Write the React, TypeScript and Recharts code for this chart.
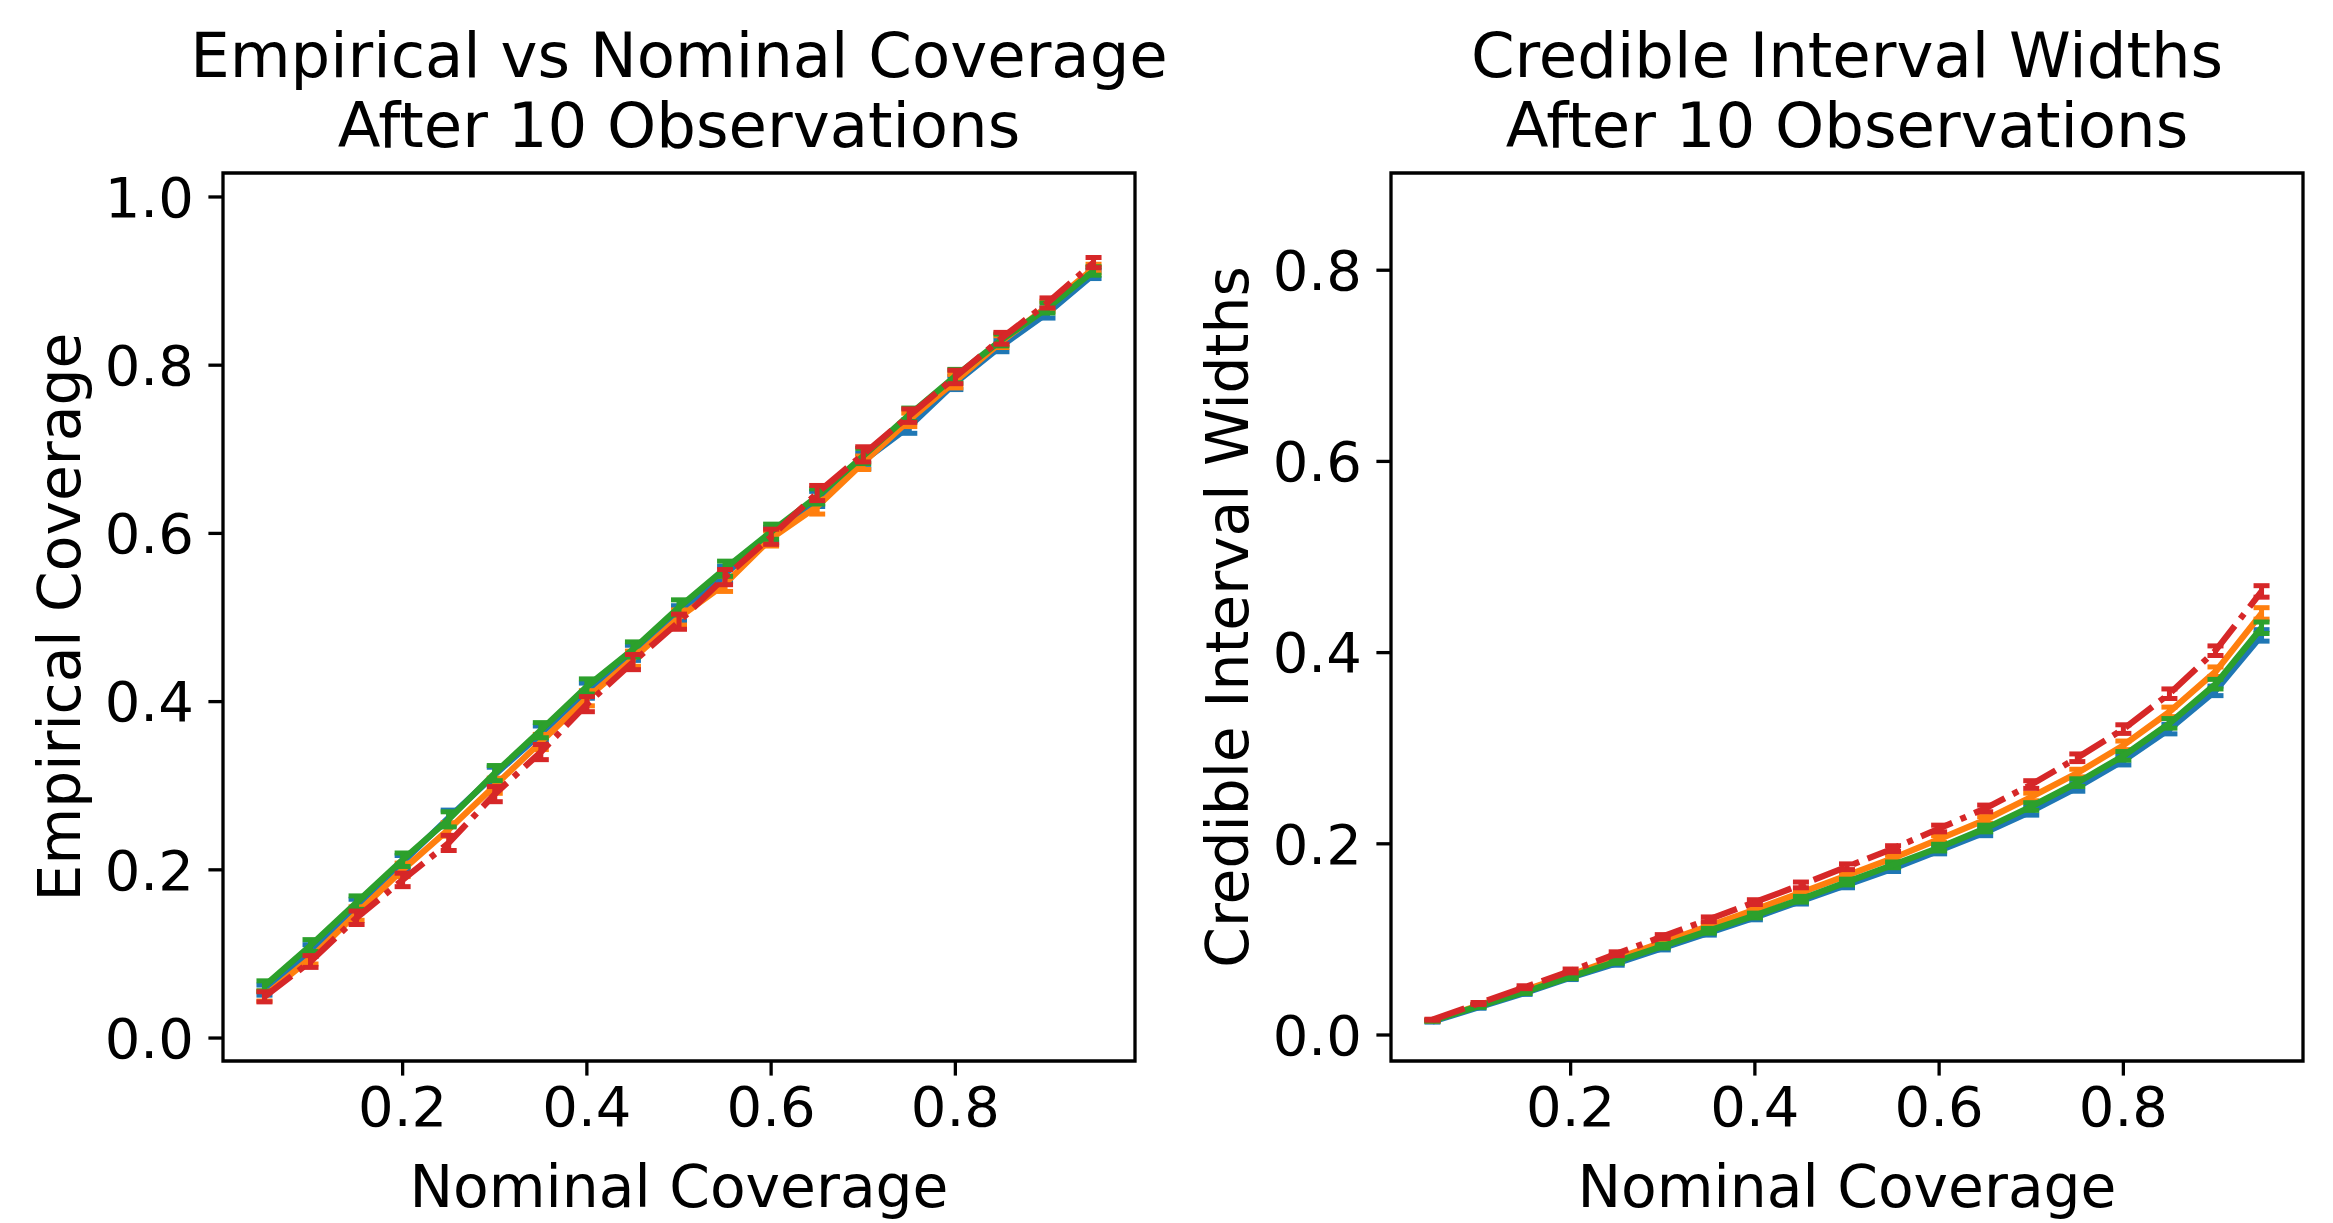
import React from 'react';
import {ErrorBar, Line, LineChart, ReferenceArea, XAxis, YAxis} from 'recharts';

// nominal coverage levels shared by both panels
const nominal = [0.05, 0.1, 0.15, 0.2, 0.25, 0.3, 0.35, 0.4, 0.45, 0.5, 0.55, 0.6, 0.65, 0.7, 0.75, 0.8, 0.85, 0.9, 0.95];
const xTicks = [0.2, 0.4, 0.6, 0.8];

// left panel: empirical coverage
const coverageBlue = [0.057, 0.104, 0.157, 0.209, 0.262, 0.313, 0.362, 0.413, 0.458, 0.505, 0.552, 0.598, 0.641, 0.686, 0.727, 0.779, 0.823, 0.862, 0.908];
const coverageOrange = [0.050, 0.095, 0.148, 0.200, 0.248, 0.300, 0.352, 0.404, 0.451, 0.500, 0.540, 0.594, 0.632, 0.684, 0.735, 0.781, 0.828, 0.870, 0.915];
const coverageGreen = [0.062, 0.110, 0.161, 0.212, 0.260, 0.315, 0.366, 0.418, 0.462, 0.512, 0.558, 0.602, 0.644, 0.692, 0.741, 0.787, 0.830, 0.868, 0.912];
const coverageRed = [0.049, 0.091, 0.143, 0.188, 0.232, 0.290, 0.340, 0.397, 0.447, 0.495, 0.548, 0.596, 0.648, 0.694, 0.740, 0.786, 0.832, 0.874, 0.922];
const coverageBlueErr = [0.006, 0.007, 0.008, 0.008, 0.009, 0.009, 0.009, 0.009, 0.009, 0.009, 0.009, 0.009, 0.009, 0.009, 0.008, 0.008, 0.007, 0.006, 0.005];
const coverageOrangeErr = [0.006, 0.007, 0.008, 0.008, 0.008, 0.009, 0.009, 0.009, 0.009, 0.009, 0.009, 0.009, 0.009, 0.008, 0.008, 0.008, 0.007, 0.006, 0.005];
const coverageGreenErr = [0.006, 0.007, 0.008, 0.008, 0.009, 0.009, 0.009, 0.009, 0.009, 0.009, 0.009, 0.009, 0.009, 0.009, 0.008, 0.008, 0.007, 0.006, 0.005];
const coverageRedErr = [0.006, 0.007, 0.008, 0.008, 0.009, 0.009, 0.009, 0.009, 0.009, 0.009, 0.009, 0.009, 0.009, 0.009, 0.008, 0.008, 0.007, 0.006, 0.006];

// right panel: credible interval widths
const widthBlue = [0.014, 0.029, 0.044, 0.060, 0.075, 0.091, 0.107, 0.123, 0.140, 0.157, 0.174, 0.193, 0.212, 0.234, 0.259, 0.287, 0.320, 0.360, 0.418];
const widthOrange = [0.015, 0.031, 0.047, 0.063, 0.080, 0.097, 0.114, 0.131, 0.149, 0.167, 0.185, 0.205, 0.225, 0.249, 0.274, 0.303, 0.338, 0.380, 0.441];
const widthGreen = [0.015, 0.030, 0.045, 0.061, 0.077, 0.093, 0.109, 0.125, 0.142, 0.160, 0.178, 0.196, 0.216, 0.239, 0.264, 0.292, 0.326, 0.367, 0.426];
const widthRed = [0.016, 0.033, 0.050, 0.067, 0.085, 0.103, 0.121, 0.139, 0.157, 0.176, 0.195, 0.216, 0.237, 0.262, 0.290, 0.320, 0.357, 0.402, 0.464];
const widthBlueErr = [0.0005, 0.001, 0.0015, 0.002, 0.002, 0.002, 0.0025, 0.0025, 0.003, 0.003, 0.003, 0.0035, 0.0035, 0.004, 0.004, 0.0045, 0.005, 0.005, 0.006];
const widthOrangeErr = [0.0005, 0.001, 0.0015, 0.002, 0.002, 0.002, 0.0025, 0.0025, 0.003, 0.003, 0.003, 0.0035, 0.0035, 0.004, 0.004, 0.0045, 0.005, 0.005, 0.006];
const widthGreenErr = [0.0005, 0.001, 0.0015, 0.002, 0.002, 0.002, 0.0025, 0.0025, 0.003, 0.003, 0.003, 0.0035, 0.0035, 0.004, 0.004, 0.0045, 0.005, 0.005, 0.006];
const widthRedErr = [0.0005, 0.001, 0.0015, 0.002, 0.002, 0.002, 0.0025, 0.0025, 0.003, 0.003, 0.003, 0.0035, 0.0035, 0.004, 0.004, 0.0045, 0.005, 0.005, 0.006];

const coverageRows = nominal.map((x, i) => ({
    x,
    blue: coverageBlue[i], blueErr: coverageBlueErr[i],
    orange: coverageOrange[i], orangeErr: coverageOrangeErr[i],
    green: coverageGreen[i], greenErr: coverageGreenErr[i],
    red: coverageRed[i], redErr: coverageRedErr[i],
}));

const widthRows = nominal.map((x, i) => ({
    x,
    blue: widthBlue[i], blueErr: widthBlueErr[i],
    orange: widthOrange[i], orangeErr: widthOrangeErr[i],
    green: widthGreen[i], greenErr: widthGreenErr[i],
    red: widthRed[i], redErr: widthRedErr[i],
}));

const series = [
    {key: 'blue', color: '#1f77b4', dash: undefined},
    {key: 'orange', color: '#ff7f0e', dash: undefined},
    {key: 'green', color: '#2ca02c', dash: undefined},
    {key: 'red', color: '#d62728', dash: '34 9 6 9'},
];

const FONT = 'DejaVu Sans';
const SPINE = 3.3;
const TICK_FONT = 56;
const X_DOMAIN = [0.005, 0.995];

const fmt = (v: number) => v.toFixed(1);

type PanelProps = {
    rows: any[],
    yDomain: number[],
    yTicks: number[],
    left: number,
    width: number,
    marginLeft: number,
    marginRight: number,
}

function Panel(props: PanelProps) {
    const {rows, yDomain, yTicks, left, width, marginLeft, marginRight} = props;
    return (
        <div style={{position: 'absolute', left, top: 0}}>
            <LineChart width={width} height={1223} data={rows}
                       margin={{top: 173, right: marginRight, bottom: 62, left: marginLeft}}>
                <XAxis type="number" dataKey="x" domain={X_DOMAIN} allowDataOverflow
                       ticks={xTicks} interval={0} tickFormatter={fmt} height={100}
                       tickSize={14.6} tickMargin={11} axisLine={false}
                       tickLine={{stroke: '#000', strokeWidth: SPINE}}
                       tick={{fill: '#000', fontSize: TICK_FONT, fontFamily: FONT}}/>
                <YAxis type="number" domain={yDomain} allowDataOverflow
                       ticks={yTicks} interval={0} tickFormatter={fmt} width={130}
                       tickSize={14.6} tickMargin={14.6} axisLine={false}
                       tickLine={{stroke: '#000', strokeWidth: SPINE}}
                       tick={{fill: '#000', fontSize: TICK_FONT, fontFamily: FONT}}/>
                {series.map(s => (
                    <Line key={s.key} dataKey={s.key} type="linear" stroke={s.color}
                          strokeWidth={6.25} strokeDasharray={s.dash} strokeLinejoin="round"
                          dot={false} activeDot={false} isAnimationActive={false}>
                        <ErrorBar dataKey={s.key + 'Err'} direction="y" width={8}
                                  strokeWidth={5} stroke={s.color} isAnimationActive={false}/>
                    </Line>
                ))}
                <ReferenceArea x1={X_DOMAIN[0]} x2={X_DOMAIN[1]} y1={yDomain[0]} y2={yDomain[1]}
                               fill="none" fillOpacity={0} stroke="#000" strokeWidth={SPINE}
                               ifOverflow="visible"/>
            </LineChart>
        </div>
    );
}

export default function App() {
    const titleStyle = {fontFamily: FONT, fontSize: 62.5, fill: '#000'};
    const labelStyle = {fontFamily: FONT, fontSize: 58.3, fill: '#000'};
    return (
        <div style={{position: 'absolute', left: 0, top: 0, width: 2333, height: 1223, background: '#fff'}}>
            <Panel rows={coverageRows} yDomain={[-0.0273, 1.0285]} yTicks={[0, 0.2, 0.4, 0.6, 0.8, 1.0]}
                   left={0} width={1170} marginLeft={93} marginRight={35}/>
            <Panel rows={widthRows} yDomain={[-0.0272, 0.9017]} yTicks={[0, 0.2, 0.4, 0.6, 0.8]}
                   left={1170} width={1163} marginLeft={91} marginRight={30}/>
            <svg width={2333} height={1223} style={{position: 'absolute', left: 0, top: 0, pointerEvents: 'none'}}>
                <text x={679} y={77} textAnchor="middle" style={titleStyle}>Empirical vs Nominal Coverage</text>
                <text x={679} y={147} textAnchor="middle" style={titleStyle}>After 10 Observations</text>
                <text x={1847} y={77} textAnchor="middle" style={titleStyle}>Credible Interval Widths</text>
                <text x={1847} y={147} textAnchor="middle" style={titleStyle}>After 10 Observations</text>
                <text x={679} y={1207} textAnchor="middle" style={labelStyle}>Nominal Coverage</text>
                <text x={1847} y={1207} textAnchor="middle" style={labelStyle}>Nominal Coverage</text>
                <text x={80} y={617} textAnchor="middle" transform="rotate(-90, 80, 617)" style={labelStyle}>Empirical Coverage</text>
                <text x={1248} y={617} textAnchor="middle" transform="rotate(-90, 1248, 617)" style={labelStyle}>Credible Interval Widths</text>
            </svg>
        </div>
    );
}
